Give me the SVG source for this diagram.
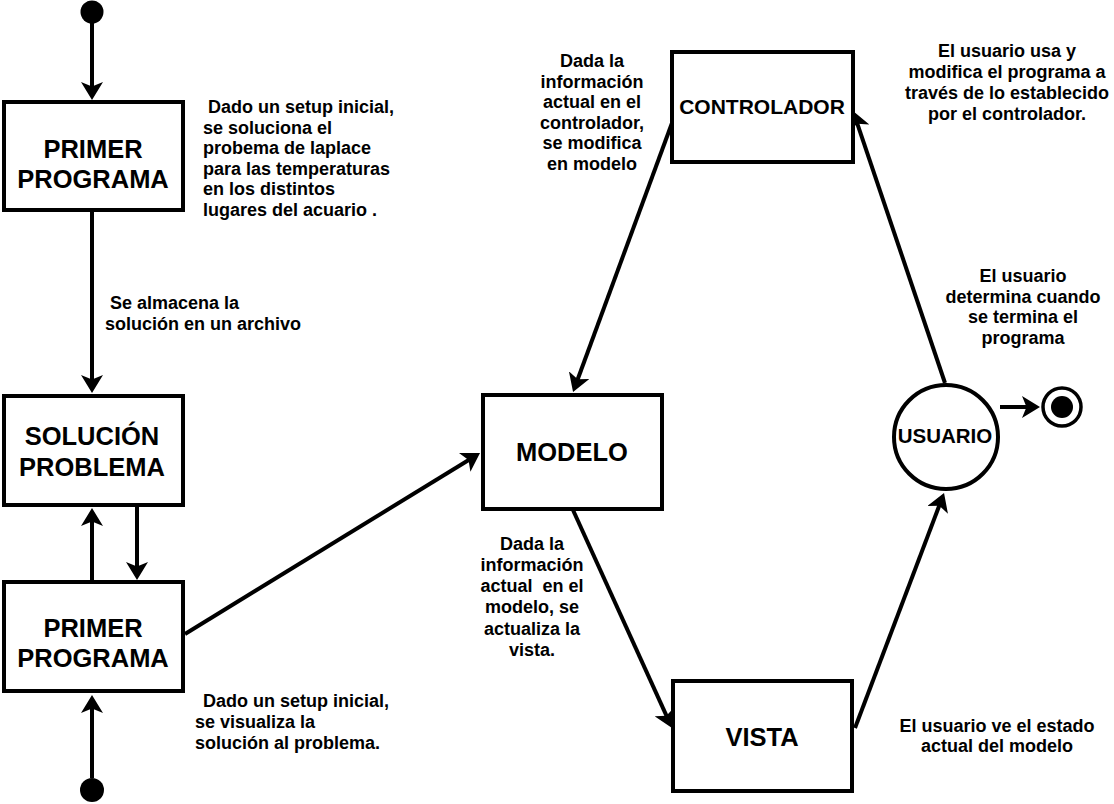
<svg xmlns="http://www.w3.org/2000/svg" width="1114" height="804" viewBox="0 0 1114 804">
<style>
.box{fill:#fff;stroke:#000;stroke-width:4}
.lbl{font-family:"Liberation Sans",Arial,sans-serif;font-weight:bold;fill:#000}
.big{font-size:25.5px;text-anchor:middle}
.mid{font-size:21px;text-anchor:middle}
.note{font-size:18px}
.c{text-anchor:middle}
.conn line{stroke:#000;stroke-width:4;fill:none;marker-end:url(#arr)}
</style>
<defs>
<marker id="arr" markerUnits="userSpaceOnUse" viewBox="0 0 18 22" markerWidth="18" markerHeight="22" refX="10" refY="11" orient="auto">
<path d="M18,11 L0,0 L4.5,11 L0,22 Z" fill="#000"/>
</marker>
</defs>
<rect width="1114" height="804" fill="#fff"/>

<g id="connectors" class="conn">
<line x1="92" y1="22" x2="92" y2="92"/>
<line x1="92" y1="212" x2="92" y2="385"/>
<line x1="92" y1="580" x2="92" y2="516"/>
<line x1="137" y1="507" x2="137" y2="572"/>
<line x1="92" y1="778" x2="92" y2="703"/>
<line x1="185" y1="634" x2="473.2" y2="457.2"/>
<line x1="672" y1="123" x2="575.8" y2="384.5"/>
<line x1="573" y1="510" x2="668.7" y2="720.7"/>
<line x1="855" y1="728" x2="941.2" y2="500.5"/>
<line x1="945" y1="383" x2="855.6" y2="118.6"/>
<line x1="1000" y1="407" x2="1032" y2="407"/>
</g>

<g id="start-top"><circle cx="92" cy="12" r="11.5" fill="#000"/></g>
<g id="start-bottom"><circle cx="92" cy="790" r="12" fill="#000"/></g>

<g id="primer-programa-1">
<rect class="box" x="4" y="102" width="179" height="108"/>
<text class="lbl big" x="93" y="158">PRIMER</text>
<text class="lbl big" x="93" y="188">PROGRAMA</text>
</g>

<g id="solucion-problema">
<rect class="box" x="4" y="396" width="179" height="109"/>
<text class="lbl big" x="92" y="445">SOLUCIÓN</text>
<text class="lbl big" x="92" y="476">PROBLEMA</text>
</g>

<g id="primer-programa-2">
<rect class="box" x="4" y="582" width="179" height="109"/>
<text class="lbl big" x="93" y="637">PRIMER</text>
<text class="lbl big" x="93" y="667">PROGRAMA</text>
</g>

<g id="modelo">
<rect class="box" x="483" y="395" width="179" height="114"/>
<text class="lbl big" x="572" y="461">MODELO</text>
</g>

<g id="controlador">
<rect class="box" x="672" y="52" width="181" height="110"/>
<text class="lbl mid" x="762" y="114">CONTROLADOR</text>
</g>

<g id="vista">
<rect class="box" x="673" y="681" width="179" height="110"/>
<text class="lbl big" x="762" y="746">VISTA</text>
</g>

<g id="usuario">
<circle cx="946" cy="437" r="52" fill="#fff" stroke="#000" stroke-width="4"/>
<text class="lbl" x="945" y="443" style="font-size:20.5px;text-anchor:middle">USUARIO</text>
</g>

<g id="end-state">
<circle cx="1062" cy="407" r="19" fill="#fff" stroke="#000" stroke-width="3.5"/>
<circle cx="1062" cy="407" r="11" fill="#000"/>
</g>

<g id="note-primer-1" class="lbl note">
<text x="208" y="113">Dado un setup inicial,</text>
<text x="203" y="134">se soluciona el</text>
<text x="203" y="154">probema de laplace</text>
<text x="203" y="175">para las temperaturas</text>
<text x="203" y="195">en los distintos</text>
<text x="203" y="216">lugares del acuario .</text>
</g>

<g id="note-almacena" class="lbl note">
<text x="110" y="309">Se almacena la</text>
<text x="105" y="330">solución en un archivo</text>
</g>

<g id="note-primer-2" class="lbl note">
<text x="203" y="707">Dado un setup inicial,</text>
<text x="195" y="728">se visualiza la</text>
<text x="195" y="749">solución al problema.</text>
</g>

<g id="note-controlador" class="lbl note c">
<text x="592" y="67">Dada la</text>
<text x="592" y="87.6">información</text>
<text x="592" y="108.2">actual en el</text>
<text x="592" y="128.8">controlador,</text>
<text x="592" y="149.4">se modifica</text>
<text x="592" y="170">en modelo</text>
</g>

<g id="note-modelo" class="lbl note c">
<text x="532" y="550">Dada la</text>
<text x="532" y="571">información</text>
<text x="532" y="592" style="white-space:pre">actual  en el</text>
<text x="532" y="613">modelo, se</text>
<text x="532" y="635">actualiza la</text>
<text x="532" y="656">vista.</text>
</g>

<g id="note-usuario-usa" class="lbl note c">
<text x="1007" y="57">El usuario usa y</text>
<text x="1007" y="78">modifica el programa a</text>
<text x="1007" y="99">través de lo establecido</text>
<text x="1007" y="120">por el controlador.</text>
</g>

<g id="note-usuario-termina" class="lbl note c">
<text x="1023" y="282">El usuario</text>
<text x="1023" y="303">determina cuando</text>
<text x="1023" y="323">se termina el</text>
<text x="1023" y="344">programa</text>
</g>

<g id="note-usuario-ve" class="lbl note c">
<text x="997" y="732">El usuario ve el estado</text>
<text x="997" y="752">actual del modelo</text>
</g>
</svg>
